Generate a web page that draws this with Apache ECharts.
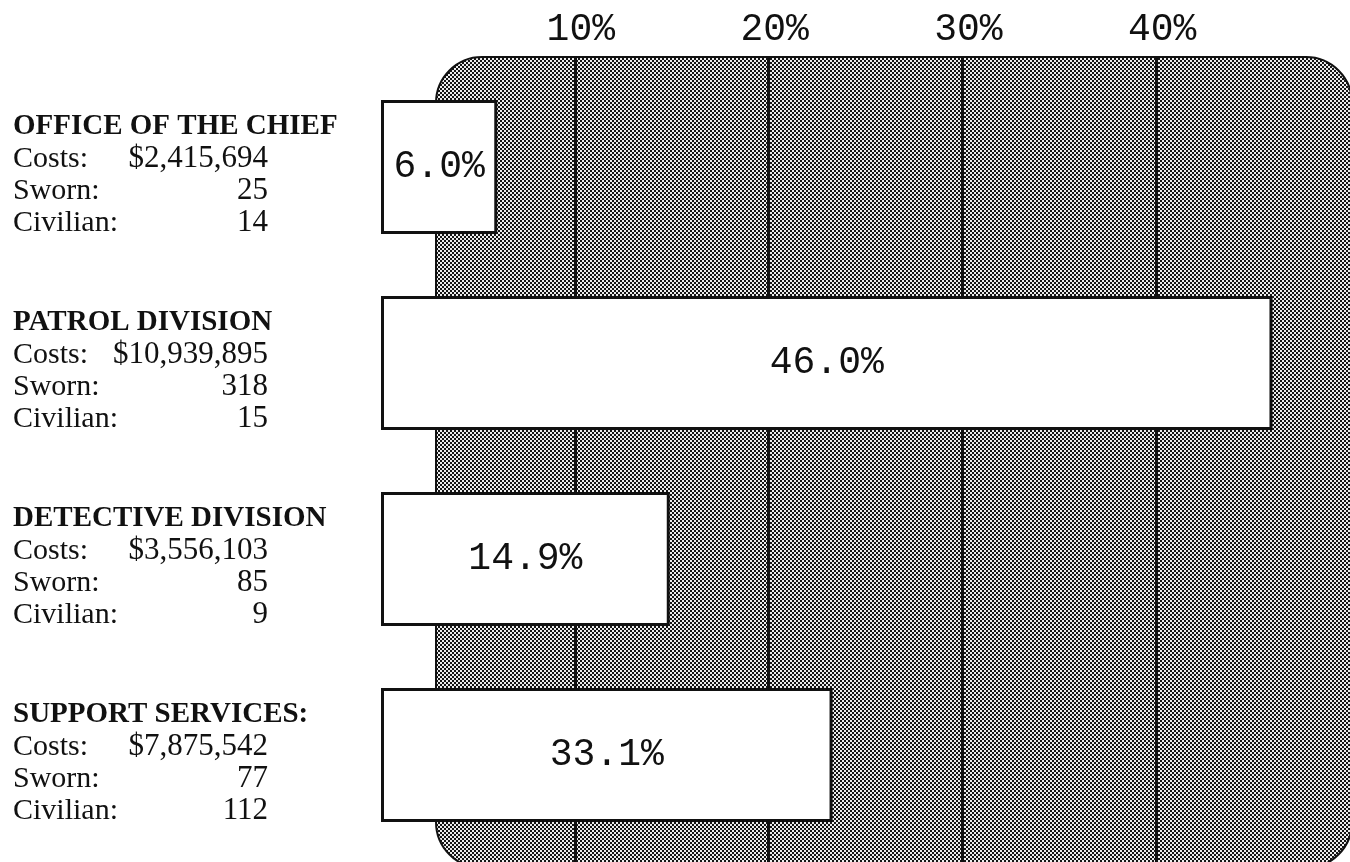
<!DOCTYPE html>
<html>
<head>
<meta charset="utf-8">
<title>Costs by division</title>
<script src="https://cdn.jsdelivr.net/npm/echarts@6/dist/echarts.min.js"></script>
<style>
  html, body { margin: 0; padding: 0; background: #fff; }
  #chart { width: 1350px; height: 862px; }
</style>
</head>
<body>
<div id="chart"></div>
<script>
// divisions, top to bottom
const divisions = ['OFFICE OF THE CHIEF', 'PATROL DIVISION', 'DETECTIVE DIVISION', 'SUPPORT SERVICES:'];
const costs = ['$2,415,694', '$10,939,895', '$3,556,103', '$7,875,542'];
const sworn = [25, 318, 85, 77];
const civilian = [14, 15, 9, 112];
// printed share of costs
const shareLabels = ['6.0%', '46.0%', '14.9%', '33.1%'];
// bar lengths as drawn in the original (support services bar is drawn short, ~23%)
const barLengths = [6.0, 46.0, 14.9, 23.3];
const tickValues = [10, 20, 30, 40];

const MONO = 'Liberation Mono';
const SERIF = 'Liberation Serif';

// halftone fill for the background panel (2px checker)
const tile = document.createElement('canvas');
tile.width = 4; tile.height = 4;
const g = tile.getContext('2d');
g.fillStyle = '#ededed';
g.fillRect(0, 0, 4, 4);
g.fillStyle = '#151515';
g.fillRect(0, 0, 2, 2);
g.fillRect(2, 2, 2, 2);

const myChart = echarts.init(document.getElementById('chart'));

const option = {
  animation: false,
  backgroundColor: '#fff',
  graphic: [
    {
      type: 'rect',
      z: -10,
      shape: { x: 436, y: 57, width: 916, height: 811, r: 46 },
      style: { fill: { image: tile, repeat: 'repeat' }, stroke: '#111', lineWidth: 2 }
    }
  ],
  grid: [
    // grid lines + percent labels on top
    { left: 381, right: 0, top: 57, bottom: 0 },
    // bars
    { left: 381, right: 0, top: 69, bottom: 9 }
  ],
  xAxis: [
    {
      gridIndex: 0,
      type: 'value',
      position: 'top',
      min: 0,
      max: 50,
      interval: 10,
      axisLine: { show: false },
      axisTick: { show: false },
      axisLabel: {
        showMinLabel: false,
        showMaxLabel: false,
        margin: 8,
        padding: [0, 0, 0, 12],
        fontFamily: MONO,
        fontSize: 38,
        color: '#111',
        formatter: function (v) {
          return tickValues.indexOf(v) >= 0 ? v + '%' : '';
        }
      },
      splitLine: {
        show: true,
        showMinLine: false,
        showMaxLine: false,
        lineStyle: { color: '#111', width: 3 }
      }
    },
    {
      gridIndex: 1,
      type: 'value',
      min: 0,
      max: 50,
      show: false
    }
  ],
  yAxis: [
    { gridIndex: 0, type: 'value', show: false },
    {
      // names + row captions
      gridIndex: 1,
      type: 'category',
      position: 'left',
      inverse: true,
      data: divisions,
      axisLine: { show: false },
      axisTick: { show: false },
      axisLabel: {
        interval: 0,
        align: 'left',
        margin: 368,
        padding: [16, 0, 0, 0],
        formatter: function (name) {
          return '{t|' + name + '}\n{k|Costs:}\n{k|Sworn:}\n{k|Civilian:}';
        },
        rich: {
          t: { fontFamily: SERIF, fontWeight: 'bold', fontSize: 29, lineHeight: 32, color: '#111' },
          k: { fontFamily: SERIF, fontSize: 30, lineHeight: 32, color: '#111' }
        }
      }
    },
    {
      // right-aligned numbers
      gridIndex: 1,
      type: 'category',
      position: 'left',
      inverse: true,
      data: divisions,
      axisLine: { show: false },
      axisTick: { show: false },
      axisLabel: {
        interval: 0,
        align: 'right',
        margin: 113,
        padding: [16, 0, 0, 0],
        formatter: function (name, i) {
          return '{k| }\n{k|' + costs[i] + '}\n{k|' + sworn[i] + '}\n{k|' + civilian[i] + '}';
        },
        rich: {
          k: { fontFamily: SERIF, fontSize: 31, lineHeight: 32, color: '#111' }
        }
      }
    }
  ],
  series: [
    {
      name: 'Share of costs',
      type: 'bar',
      xAxisIndex: 1,
      yAxisIndex: 1,
      barWidth: 134,
      data: barLengths,
      itemStyle: { color: '#fff', borderColor: '#111', borderWidth: 3 },
      label: {
        show: true,
        position: 'inside',
        fontFamily: MONO,
        fontSize: 38,
        color: '#111',
        formatter: function (p) { return shareLabels[p.dataIndex]; }
      }
    }
  ]
};

myChart.setOption(option);
</script>
</body>
</html>
